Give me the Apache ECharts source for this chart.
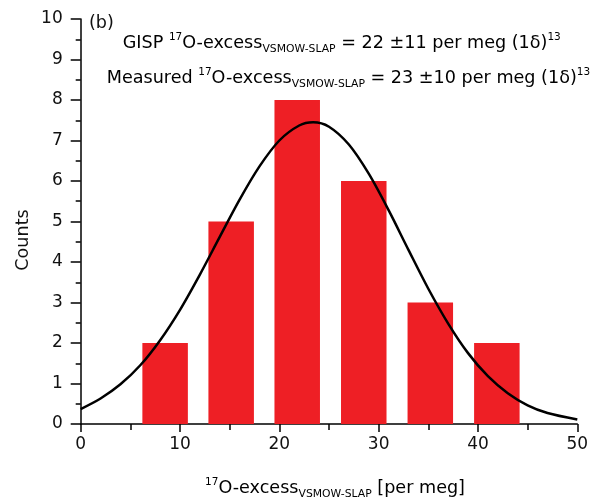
<!DOCTYPE html>
<html>
<head>
<meta charset="utf-8">
<script src="https://cdn.jsdelivr.net/npm/echarts@6/dist/echarts.min.js"></script>
<style>html,body{margin:0;padding:0;background:#fff}#c{width:600px;height:502px}</style>
</head>
<body>
<div id="c"></div>
<script>
// Histogram bins (bin centre, per meg) and counts
const binCenters = [8.5, 15.15, 21.8, 28.5, 35.2, 41.9];
const counts = [2, 5, 8, 6, 3, 2];
// Fitted curve: x (per meg), y (counts)
const curveX = [0, 2, 4, 6, 8, 10, 12, 14, 16, 18, 20, 22, 23.4, 25, 27, 29, 31, 33, 35, 37, 39, 41, 43, 45, 47, 50];
const curveY = [0.37, 0.63, 0.98, 1.45, 2.07, 2.82, 3.69, 4.62, 5.54, 6.36, 7.00, 7.37, 7.45, 7.34, 6.90, 6.18, 5.28, 4.30, 3.34, 2.48, 1.75, 1.18, 0.76, 0.46, 0.27, 0.11];
const xTicks = [0, 10, 20, 30, 40, 50];
const yTicks = [0, 1, 2, 3, 4, 5, 6, 7, 8, 9, 10];

const FONT = 'DejaVu Sans';
const TXT = '#111';
const chart = echarts.init(document.getElementById('c'), null, {renderer: 'canvas'});
const rich = {
  n: {fontFamily: FONT, fontSize: 17.6, color: TXT},
  sup: {fontFamily: FONT, fontSize: 10.5, color: TXT, padding: [0, 0, 12, 0]},
  sub: {fontFamily: FONT, fontSize: 10.8, color: TXT, padding: [12, 0, 0, 0]}
};
chart.setOption({
  animation: false,
  backgroundColor: '#fff',
  grid: {left: 80.7, right: 22.7, top: 19, bottom: 78},
  xAxis: {
    type: 'value', min: xTicks[0], max: xTicks[xTicks.length - 1], interval: 10,
    axisLine: {lineStyle: {color: '#000', width: 1.5}},
    axisTick: {length: 8, lineStyle: {color: '#000', width: 1.5}},
    minorTick: {show: true, splitNumber: 2, length: 6, lineStyle: {color: '#000', width: 1.5}},
    axisLabel: {fontFamily: FONT, fontSize: 17, color: TXT, margin: 12},
    splitLine: {show: false}
  },
  yAxis: {
    type: 'value', min: yTicks[0], max: yTicks[yTicks.length - 1], interval: 1,
    axisLine: {show: true, lineStyle: {color: '#000', width: 1.5}},
    axisTick: {show: true, length: 10, lineStyle: {color: '#000', width: 1.5}},
    minorTick: {show: true, splitNumber: 2, length: 5, lineStyle: {color: '#000', width: 1.5}},
    axisLabel: {fontFamily: FONT, fontSize: 17, color: TXT, margin: 18},
    splitLine: {show: false}
  },
  series: [
    {
      type: 'bar', barWidth: 45.5,
      itemStyle: {color: '#ee1f25'},
      data: binCenters.map((x, i) => [x, counts[i]]),
      z: 2
    },
    {
      type: 'line', smooth: 0.3, symbol: 'none',
      lineStyle: {color: '#000', width: 2.5},
      data: curveX.map((x, i) => [x, curveY[i]]),
      z: 3
    }
  ],
  graphic: [
    {type: 'text', x: 89, y: 23, style: {text: '(b)', font: '17.6px ' + FONT, fill: TXT, verticalAlign: 'middle'}},
    {type: 'text', x: 122.7, y: 43, style: {
      text: '{n|GISP }{sup|17}{n|O-excess}{sub|VSMOW-SLAP}{n| = 22 ±11 per meg (1δ)}{sup|13}',
      rich: rich, verticalAlign: 'middle'}},
    {type: 'text', x: 106.7, y: 78, style: {
      text: '{n|Measured }{sup|17}{n|O-excess}{sub|VSMOW-SLAP}{n| = 23 ±10 per meg (1δ)}{sup|13}',
      rich: rich, verticalAlign: 'middle'}},
    {type: 'text', x: 335, y: 488, style: {
      text: '{sup|17}{n|O-excess}{sub|VSMOW-SLAP}{n| [per meg]}',
      rich: rich, align: 'center', verticalAlign: 'middle'}},
    {type: 'text', x: 23, y: 240, rotation: Math.PI / 2, style: {
      text: 'Counts', font: '17.6px ' + FONT, fill: TXT, align: 'center', verticalAlign: 'middle'}}
  ]
});
</script>
</body>
</html>
